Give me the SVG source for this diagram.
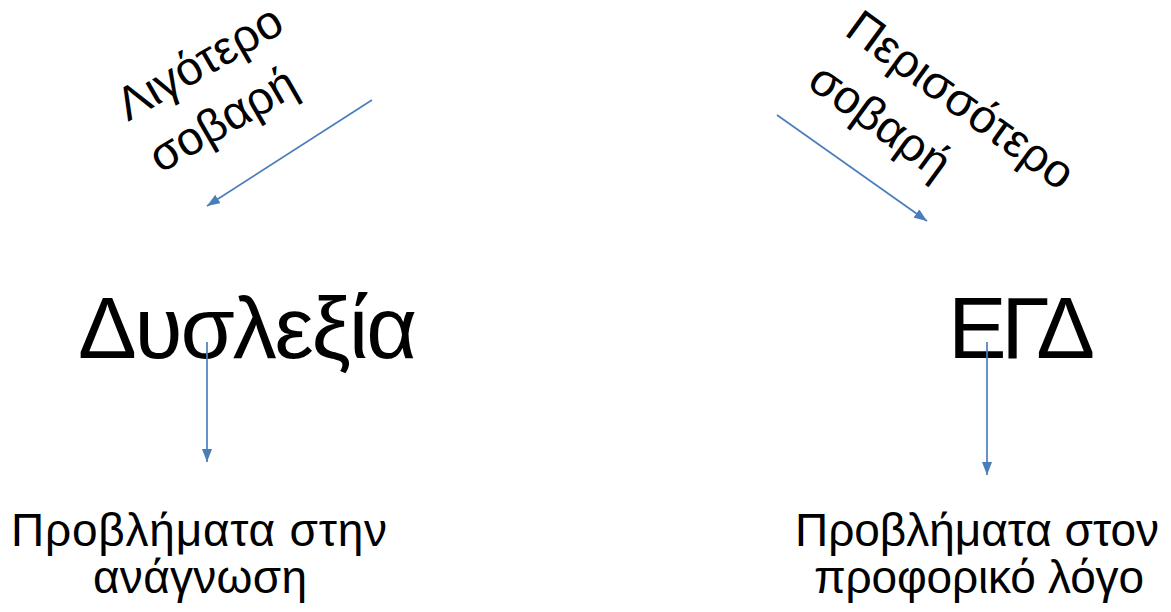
<svg xmlns="http://www.w3.org/2000/svg" width="1171" height="612" viewBox="0 0 1171 612">
<style>
  text { font-family: "Liberation Sans", Arial, sans-serif; fill: #000; }
  .big { font-size: 88px; }
  .mid { font-size: 47px; }
  .lbl { font-size: 46px; text-anchor: middle; }
  .conn line { stroke: #4a7ebb; stroke-width: 1.7; fill: none; }
</style>
<defs>
  <marker id="ah" viewBox="0 0 13 10" refX="13" refY="5" markerWidth="13" markerHeight="10" markerUnits="userSpaceOnUse" orient="auto">
    <path d="M0,0 L13,5 L0,10 z" fill="#4a7ebb"/>
  </marker>
</defs>
<rect width="1171" height="612" fill="#fff"/>
<g id="less-severe">
  <text class="mid" transform="translate(128,122) rotate(-30)"><tspan x="0" y="0">Λιγότερο</tspan><tspan x="2" y="61">σοβαρή</tspan></text>
</g>
<g id="more-severe">
  <text class="mid" transform="translate(843,34) rotate(36)"><tspan x="0" y="0">Περισσότερο</tspan><tspan x="0" y="64">σοβαρή</tspan></text>
</g>
<g id="dyslexia">
  <text class="big" x="78" y="358" textLength="339">Δυσλεξία</text>
</g>
<g id="egd">
  <text class="big" x="948" y="358" textLength="147">ΕΓΔ</text>
</g>
<g id="reading">
  <text class="lbl" x="199" y="546" textLength="376">Προβλήματα στην</text>
  <text class="lbl" x="200" y="593" textLength="214">ανάγνωση</text>
</g>
<g id="oral">
  <text class="lbl" x="977" y="546" textLength="364">Προβλήματα στον</text>
  <text class="lbl" x="979" y="593" textLength="330">προφορικό λόγο</text>
</g>
<g id="connectors" class="conn">
  <line x1="372" y1="100" x2="207" y2="206" marker-end="url(#ah)"/>
  <line x1="777" y1="115" x2="927" y2="221" marker-end="url(#ah)"/>
  <line x1="207" y1="342" x2="207" y2="462" marker-end="url(#ah)"/>
  <line x1="987" y1="342" x2="987" y2="475" marker-end="url(#ah)"/>
</g>
</svg>
